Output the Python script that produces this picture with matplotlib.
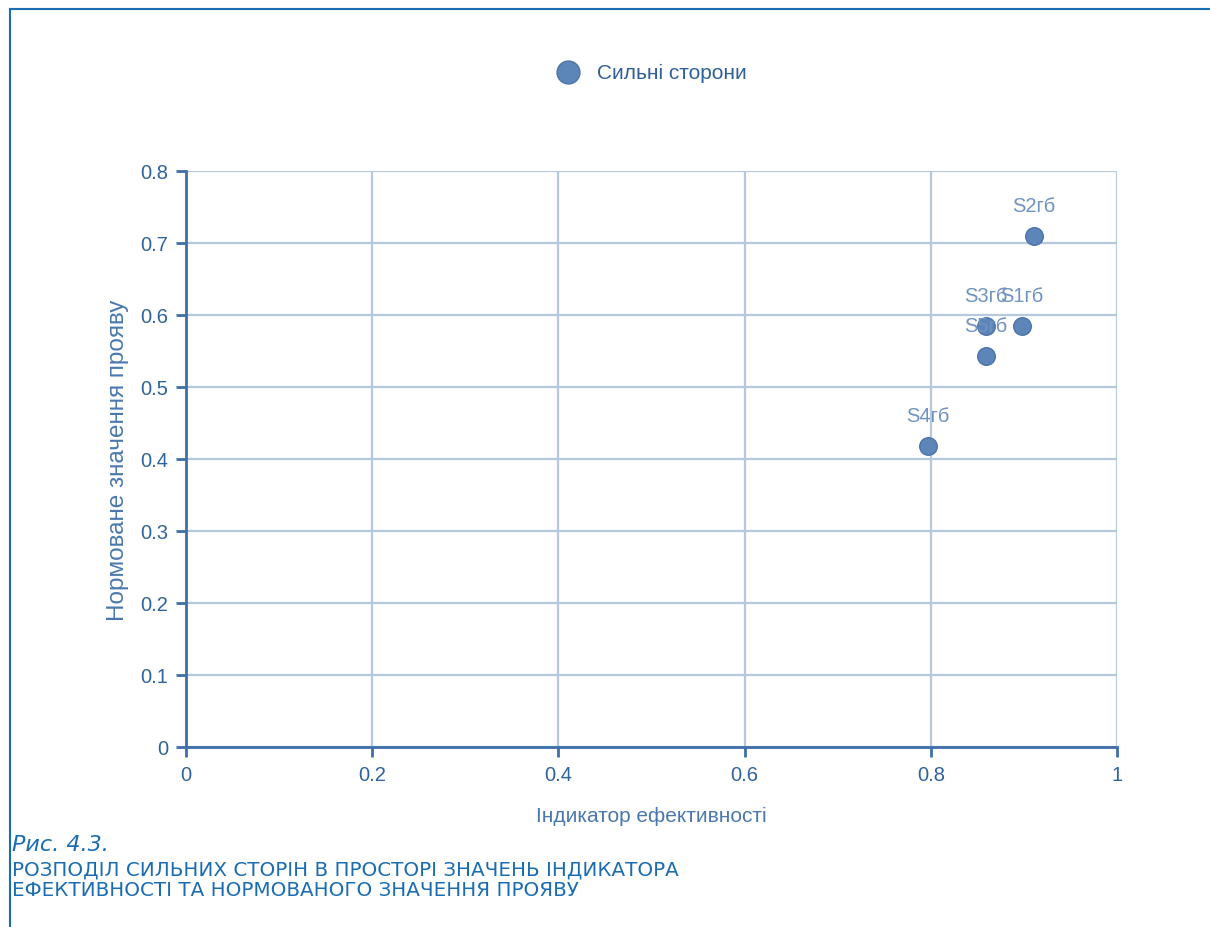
import matplotlib
matplotlib.use("Agg")
import matplotlib.pyplot as plt

# дані
names = ["S1гб", "S2гб", "S3гб", "S4гб", "S5гб"]
efficiency = [0.898, 0.911, 0.859, 0.797, 0.859]
norm_value = [0.585, 0.710, 0.585, 0.418, 0.543]

x_ticks = [0, 0.2, 0.4, 0.6, 0.8, 1]
x_tick_labels = ["0", "0.2", "0.4", "0.6", "0.8", "1"]
y_ticks = [0, 0.1, 0.2, 0.3, 0.4, 0.5, 0.6, 0.7, 0.8]
y_tick_labels = ["0", "0.1", "0.2", "0.3", "0.4", "0.5", "0.6", "0.7", "0.8"]

plt.rcParams["font.family"] = ["Liberation Sans", "DejaVu Sans"]

axis_col = "#3e6fa8"
grid_col = "#b4c8e0"
dot_col = "#5d86b8"
cap_col = "#1b6db3"

fig = plt.figure(figsize=(12.1, 9.28), dpi=100)
ax = fig.add_axes([0.1537, 0.194, 0.7694, 0.6207])

ax.scatter(efficiency, norm_value, s=160, color=dot_col, edgecolor="#4a74a8",
           linewidth=1, zorder=3, label="Сильні сторони")
for n, xv, yv in zip(names, efficiency, norm_value):
    ax.annotate(n, (xv, yv), xytext=(0, 22), textcoords="offset points",
                ha="center", va="center", fontsize=14.5, color="#6f93c2", zorder=4)

ax.set_xlim(0, 1)
ax.set_ylim(0, 0.8)
ax.set_xticks(x_ticks)
ax.set_xticklabels(x_tick_labels)
ax.set_yticks(y_ticks)
ax.set_yticklabels(y_tick_labels)
ax.grid(True, color=grid_col, linewidth=1.6)
ax.set_axisbelow(True)

for s in ["top", "right"]:
    ax.spines[s].set_visible(False)
for s in ["left", "bottom"]:
    ax.spines[s].set_color(axis_col)
    ax.spines[s].set_linewidth(2)
ax.tick_params(colors=axis_col, labelsize=14.5, length=7, width=2, pad=6)
ax.tick_params(axis="both", labelcolor="#2f639c")

ax.set_xlabel("Індикатор ефективності", fontsize=15, color="#4a78ad", labelpad=16)
ax.set_ylabel("Нормоване значення прояву", fontsize=17.5, color="#4a78ad", labelpad=8)

leg = fig.legend(loc="center", bbox_to_anchor=(0.535, 0.921), frameon=False,
                 fontsize=15, markerscale=1.3, handletextpad=0.4)
for t in leg.get_texts():
    t.set_color("#2f5f98")

# рамка
fig.add_artist(plt.Line2D([0.0083, 1.0], [0.989, 0.989], color=cap_col, linewidth=1.5))
fig.add_artist(plt.Line2D([0.0083, 0.0083], [0.0, 0.989], color=cap_col, linewidth=1.5))

# підпис
fig.text(0.0099, 0.089, "Рис. 4.3.", fontsize=16, style="italic", color=cap_col,
         family=["DejaVu Sans"], va="center")
fig.text(0.0099, 0.063, "РОЗПОДІЛ СИЛЬНИХ СТОРІН В ПРОСТОРІ ЗНАЧЕНЬ ІНДИКАТОРА",
         fontsize=14.3, color=cap_col, family=["DejaVu Sans"], va="center")
fig.text(0.0099, 0.040, "ЕФЕКТИВНОСТІ ТА НОРМОВАНОГО ЗНАЧЕННЯ ПРОЯВУ",
         fontsize=14.3, color=cap_col, family=["DejaVu Sans"], va="center")

fig.savefig("out.png", dpi=100)
